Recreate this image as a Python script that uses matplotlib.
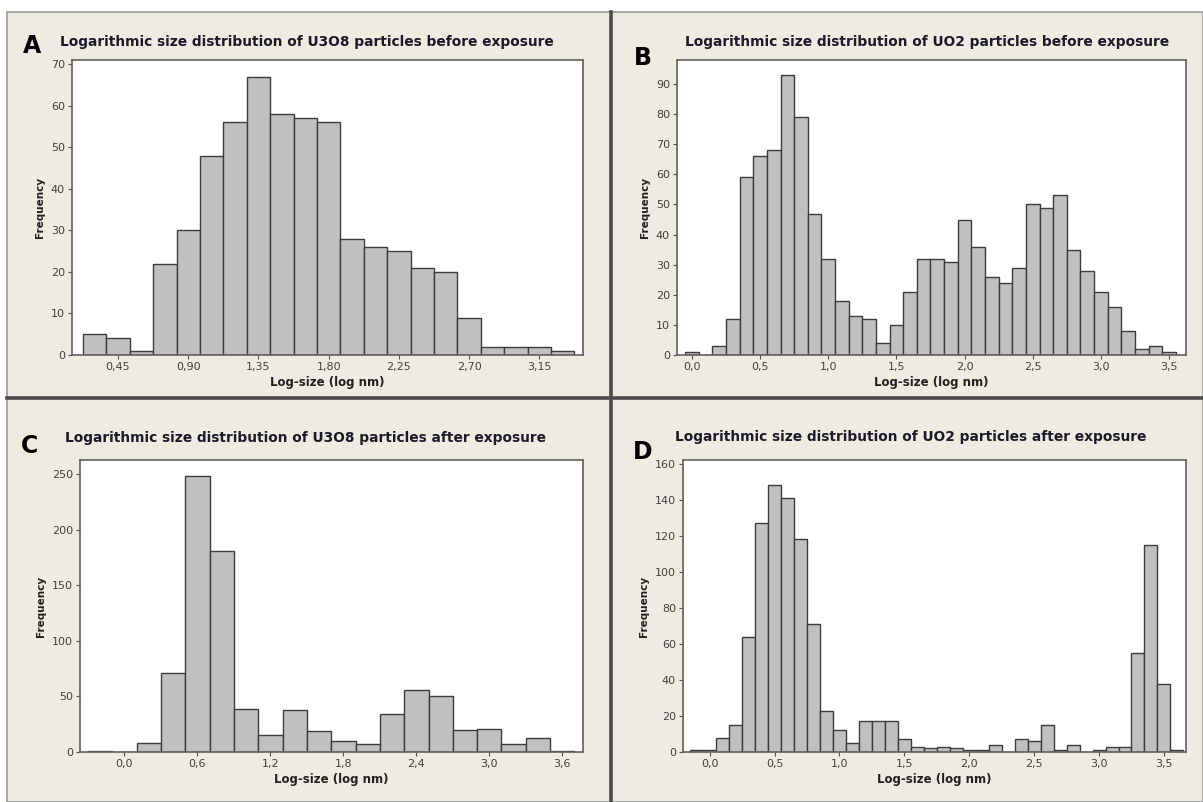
import matplotlib
matplotlib.use("Agg")
from matplotlib import pyplot as plt
from matplotlib.patches import Rectangle
from matplotlib.lines import Line2D

# panel A: U3O8 before exposure (bin width 0.15)
a_centers = [0.30, 0.45, 0.60, 0.75, 0.90, 1.05, 1.20, 1.35, 1.50, 1.65, 1.80,
             1.95, 2.10, 2.25, 2.40, 2.55, 2.70, 2.85, 3.00, 3.15, 3.30]
a_counts = [5, 4, 1, 22, 30, 48, 56, 67, 58, 57, 56,
            28, 26, 25, 21, 20, 9, 2, 2, 2, 1]

# panel B: UO2 before exposure (bin width 0.1)
b_centers = [0.0, 0.1, 0.2, 0.3, 0.4, 0.5, 0.6, 0.7, 0.8, 0.9, 1.0, 1.1,
             1.2, 1.3, 1.4, 1.5, 1.6, 1.7, 1.8, 1.9, 2.0, 2.1, 2.2, 2.3,
             2.4, 2.5, 2.6, 2.7, 2.8, 2.9, 3.0, 3.1, 3.2, 3.3, 3.4, 3.5]
b_counts = [1, 0, 3, 12, 59, 66, 68, 93, 79, 47, 32, 18,
            13, 12, 4, 10, 21, 32, 32, 31, 45, 36, 26, 24,
            29, 50, 49, 53, 35, 28, 21, 16, 8, 2, 3, 1]

# panel C: U3O8 after exposure (bin width 0.2)
c_centers = [-0.2, 0.0, 0.2, 0.4, 0.6, 0.8, 1.0, 1.2, 1.4, 1.6,
             1.8, 2.0, 2.2, 2.4, 2.6, 2.8, 3.0, 3.2, 3.4, 3.6]
c_counts = [1, 0, 8, 71, 249, 181, 39, 15, 38, 19,
            10, 7, 34, 56, 50, 20, 21, 7, 13, 1]

# panel D: UO2 after exposure (bin width 0.1)
d_centers = [-0.1, 0.0, 0.1, 0.2, 0.3, 0.4, 0.5, 0.6, 0.7, 0.8, 0.9, 1.0,
             1.1, 1.2, 1.3, 1.4, 1.5, 1.6, 1.7, 1.8, 1.9, 2.0, 2.1, 2.2,
             2.3, 2.4, 2.5, 2.6, 2.7, 2.8, 2.9, 3.0, 3.1, 3.2, 3.3, 3.4,
             3.5, 3.6]
d_counts = [1, 1, 8, 15, 64, 127, 148, 141, 118, 71, 23, 12,
            5, 17, 17, 17, 7, 3, 2, 3, 2, 1, 1, 4,
            0, 7, 6, 15, 1, 4, 0, 1, 3, 3, 55, 115,
            38, 1]

TITLES = ["Logarithmic size distribution of U3O8 particles before exposure",
          "Logarithmic size distribution of UO2 particles before exposure",
          "Logarithmic size distribution of U3O8 particles after exposure",
          "Logarithmic size distribution of UO2 particles after exposure"]
LETTERS = ["A", "B", "C", "D"]

a_ticks = [0.45, 0.90, 1.35, 1.80, 2.25, 2.70, 3.15]
b_ticks = [0.0, 0.5, 1.0, 1.5, 2.0, 2.5, 3.0, 3.5]
c_ticks = [0.0, 0.6, 1.2, 1.8, 2.4, 3.0, 3.6]
d_ticks = [0.0, 0.5, 1.0, 1.5, 2.0, 2.5, 3.0, 3.5]

W, H = 1203, 802
BG = "#efebe1"

fig = plt.figure(figsize=(W / 100, H / 100), dpi=100, facecolor="white")

# beige canvas and panel dividers (behind the axes)
fig.patches.append(Rectangle((7 / W, 0), 1 - 7 / W, 1 - 12 / H, transform=fig.transFigure,
                             facecolor=BG, edgecolor="#9a9a9a", linewidth=1.2, zorder=-10))
fig.lines.append(Line2D([611 / W, 611 / W], [0, 1 - 12 / H], transform=fig.transFigure,
                        color="#4a4a4a", linewidth=2.6, zorder=-5))
fig.lines.append(Line2D([7 / W, 1], [1 - 398 / H, 1 - 398 / H], transform=fig.transFigure,
                        color="#4a4a4a", linewidth=2.6, zorder=-5))


def px_axes(left, top, right, bottom):
    return fig.add_axes([left / W, 1 - bottom / H, (right - left) / W, (bottom - top) / H])


def fmt(v, nd):
    return f"{v:.{nd}f}".replace(".", ",")


panels = [
    dict(box=(72, 60, 583, 355), x=a_centers, y=a_counts, w=0.15, xlim=(0.155, 3.43),
         ylim=(0, 71), xt=a_ticks, nd=2, yt=range(0, 71, 10),
         title_xy=(60, 42), letter_xy=(32, 46)),
    dict(box=(677, 60, 1186, 355), x=b_centers, y=b_counts, w=0.1, xlim=(-0.11, 3.625),
         ylim=(0, 98), xt=b_ticks, nd=1, yt=range(0, 91, 10),
         title_xy=(685, 42), letter_xy=(643, 58)),
    dict(box=(80, 460, 583, 752), x=c_centers, y=c_counts, w=0.2, xlim=(-0.365, 3.77),
         ylim=(0, 263), xt=c_ticks, nd=1, yt=range(0, 251, 50),
         title_xy=(65, 438), letter_xy=(30, 446)),
    dict(box=(683, 460, 1186, 752), x=d_centers, y=d_counts, w=0.1, xlim=(-0.205, 3.67),
         ylim=(0, 162), xt=d_ticks, nd=1, yt=range(0, 161, 20),
         title_xy=(675, 437), letter_xy=(643, 452)),
]

for i, p in enumerate(panels):
    ax = px_axes(*p["box"])
    ax.set_facecolor("white")
    ax.bar(p["x"], p["y"], width=p["w"], color="#c0c0c0", edgecolor="#3c3c3c", linewidth=1.0)
    ax.set_xlim(*p["xlim"])
    ax.set_ylim(*p["ylim"])
    ax.set_xticks(p["xt"])
    ax.set_xticklabels([fmt(v, p["nd"]) for v in p["xt"]])
    ax.set_yticks(list(p["yt"]))
    ax.tick_params(axis="both", labelsize=8, colors="#505050", length=3, width=0.8, pad=2)
    for lab in ax.get_xticklabels() + ax.get_yticklabels():
        lab.set_color("#404040")
    for s in ax.spines.values():
        s.set_color("#606060")
        s.set_linewidth(1.2)
    ax.set_xlabel("Log-size (log nm)", fontsize=8.5, fontweight="bold", color="#202020", labelpad=3)
    ax.set_ylabel("Frequency", fontsize=7.5, fontweight="bold", color="#202020", labelpad=4)
    tx, ty = p["title_xy"]
    fig.text(tx / W, 1 - ty / H, TITLES[i], fontsize=9.9, fontweight="bold",
             color="#1a1a2a", va="center", ha="left")
    lx, ly = p["letter_xy"]
    fig.text(lx / W, 1 - ly / H, LETTERS[i], fontsize=17, fontweight="bold",
             color="black", va="center", ha="center")

fig.savefig("out.png", dpi=100, facecolor=fig.get_facecolor())
